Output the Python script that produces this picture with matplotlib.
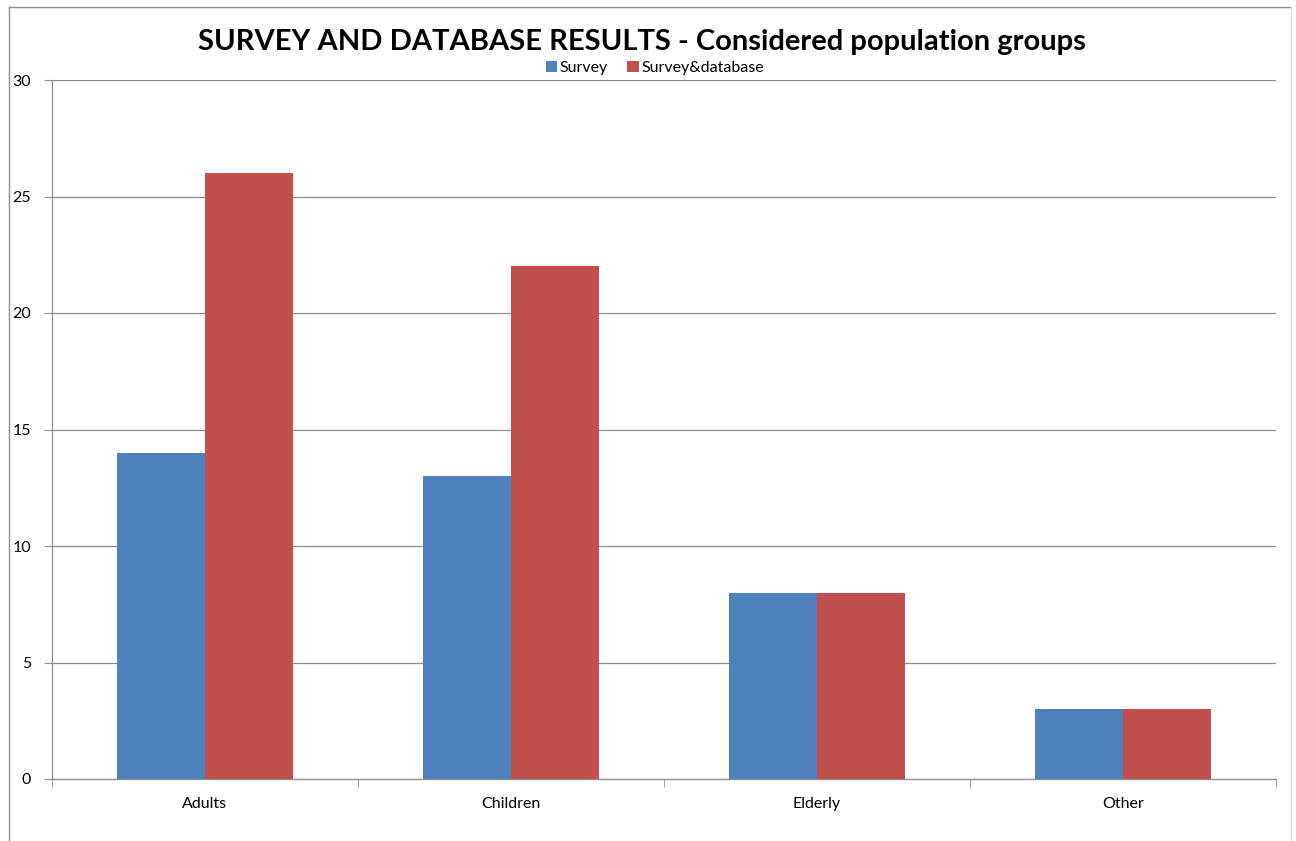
import matplotlib
matplotlib.use("Agg")
import matplotlib.pyplot as plt
from matplotlib.lines import Line2D
import numpy as np

categories = ["Adults", "Children", "Elderly", "Other"]
survey = [14, 13, 8, 3]
survey_database = [26, 22, 8, 3]
y_ticks = [0, 5, 10, 15, 20, 25, 30]

plt.rcParams['font.family'] = ['Lato', 'DejaVu Sans']

W, H = 1296, 841
fig = plt.figure(figsize=(W / 100, H / 100), dpi=100)
fig.patch.set_facecolor("white")

# outer chart frame: top and left edges, faint right edge
fx0, fx1, fy0 = 8.5 / W, 1290.5 / W, 1 - 6.5 / H
fig.add_artist(Line2D([fx0, fx1], [fy0, fy0], transform=fig.transFigure,
                      color="#8c8c8c", linewidth=1.0))
fig.add_artist(Line2D([fx0, fx0], [0, fy0], transform=fig.transFigure,
                      color="#8c8c8c", linewidth=1.0))
fig.add_artist(Line2D([fx1, fx1], [0, fy0], transform=fig.transFigure,
                      color="#e2e2e2", linewidth=1.0))

left, right, top, bottom = 52, 1276, 80, 779
ax = fig.add_axes([left / W, 1 - bottom / H, (right - left) / W, (bottom - top) / H])

x = np.arange(len(categories))
bw = 0.286
blue = "#4F81BD"
red = "#C0504D"
ax.bar(x - bw / 2, survey, width=bw, color=blue, label="Survey", zorder=3)
ax.bar(x + bw / 2, survey_database, width=bw, color=red, label="Survey&database", zorder=3)

ax.set_xlim(-0.5, len(categories) - 0.5)
ax.set_ylim(0, 30)
ax.set_yticks(y_ticks)
ax.set_yticklabels([str(v) for v in y_ticks], fontsize=11.5)
ax.yaxis.grid(True, color="#8c8c8c", linewidth=0.9, zorder=0)
ax.set_axisbelow(True)

ax.set_xticks(x)
ax.set_xticklabels(categories, fontsize=11.5)
ax.tick_params(axis="x", length=0, pad=13)
ax.set_xticks(np.arange(-0.5, len(categories)), minor=True)
ax.tick_params(axis="x", which="minor", length=6, color="#8c8c8c", direction="out")
ax.tick_params(axis="y", length=6, color="#8c8c8c", pad=9)

for s in ["top", "right"]:
    ax.spines[s].set_visible(False)
for s in ["left", "bottom"]:
    ax.spines[s].set_color("#8c8c8c")
    ax.spines[s].set_linewidth(0.9)

fig.text(642 / W, 1 - 42 / H, "SURVEY AND DATABASE RESULTS - Considered population groups",
         ha="center", va="center", fontsize=21, fontweight="bold", color="black")

ax.legend(loc="center", bbox_to_anchor=(655 / W, 1 - 68 / H), bbox_transform=fig.transFigure,
          ncol=2, frameon=False, fontsize=11.5, handlelength=0.7, handleheight=0.7,
          handletextpad=0.2, columnspacing=1.2, borderpad=0)

fig.savefig("out.png", dpi=100, facecolor="white")
